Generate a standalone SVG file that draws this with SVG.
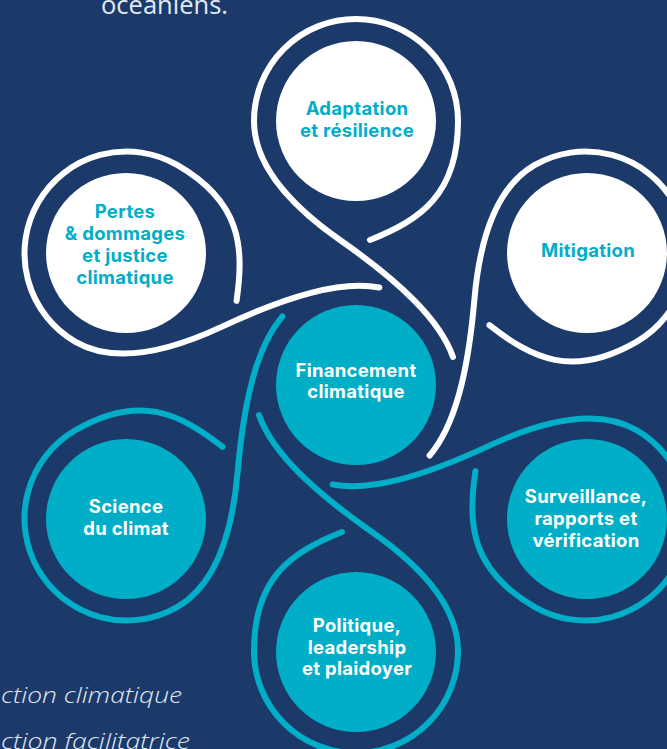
<svg xmlns="http://www.w3.org/2000/svg" xmlns:xlink="http://www.w3.org/1999/xlink" width="667" height="749" viewBox="0 0 667 749">
<defs>
<style>
.bg{fill:#1b3a6a}
.loop{fill:none;stroke-width:6;stroke-linecap:round;stroke-linejoin:round}
.w{stroke:#ffffff}
.c{stroke:#00aec8}
.nw{fill:#ffffff}
.nc{fill:#00aec8}
.lbl{font-family:Inter,"Noto Sans",sans-serif;font-weight:700;font-size:18.5px;letter-spacing:0.3px;text-anchor:middle}
.tc{fill:#00aec8}
.tw{fill:#ffffff}
.body{font-family:"Open Sans","Noto Sans",sans-serif;fill:#e4eaf2}
</style>
<path id="loopP" d="M 370 240 C 420 220, 458 195, 458 121 A 102 102 0 1 0 254 121 C 254 165, 290 205, 340 240 C 400 282, 440 320, 453 357"/>
</defs>
<rect class="bg" x="0" y="0" width="667" height="749"/>
<text class="body" x="101" y="14" font-size="25" font-weight="400" textLength="127" lengthAdjust="spacingAndGlyphs">océaniens.</text>
<text class="body" x="1" y="703" font-size="22" font-weight="300" font-style="italic" textLength="181" lengthAdjust="spacingAndGlyphs">ction climatique</text>
<text class="body" x="1" y="749" font-size="22" font-weight="300" font-style="italic" textLength="189" lengthAdjust="spacingAndGlyphs">ction facilitatrice</text>
<g id="connectors">
<use xlink:href="#loopP" href="#loopP" class="loop w"/>
<use xlink:href="#loopP" href="#loopP" class="loop w" transform="rotate(60 356 386)"/>
<use xlink:href="#loopP" href="#loopP" class="loop c" transform="rotate(120 356 386)"/>
<use xlink:href="#loopP" href="#loopP" class="loop c" transform="rotate(180 356 386)"/>
<use xlink:href="#loopP" href="#loopP" class="loop c" transform="rotate(240 356 386)"/>
<use xlink:href="#loopP" href="#loopP" class="loop w" transform="rotate(300 356 386)"/>
</g>
<g id="node-adaptation">
<circle class="nw" cx="356" cy="121" r="80"/>
<text class="lbl tc" x="357" y="115">Adaptation</text>
<text class="lbl tc" x="357" y="137">et résilience</text>
</g>
<g id="node-pertes">
<circle class="nw" cx="126" cy="253" r="80"/>
<text class="lbl tc" x="125" y="218">Pertes</text>
<text class="lbl tc" x="125" y="240">&amp; dommages</text>
<text class="lbl tc" x="125" y="262">et justice</text>
<text class="lbl tc" x="125" y="284">climatique</text>
</g>
<g id="node-mitigation">
<circle class="nw" cx="587" cy="253" r="80"/>
<text class="lbl tc" x="588" y="257">Mitigation</text>
</g>
<g id="node-financement">
<circle class="nc" cx="356" cy="385" r="80"/>
<text class="lbl tw" x="356" y="377">Financement</text>
<text class="lbl tw" x="356" y="398">climatique</text>
</g>
<g id="node-science">
<circle class="nc" cx="126" cy="519" r="80"/>
<text class="lbl tw" x="126" y="513">Science</text>
<text class="lbl tw" x="126" y="535">du climat</text>
</g>
<g id="node-surveillance">
<circle class="nc" cx="587" cy="519" r="80"/>
<text class="lbl tw" x="586" y="503">Surveillance,</text>
<text class="lbl tw" x="586" y="525">rapports et</text>
<text class="lbl tw" x="586" y="547">vérification</text>
</g>
<g id="node-politique">
<circle class="nc" cx="356" cy="652" r="80"/>
<text class="lbl tw" x="357" y="632">Politique,</text>
<text class="lbl tw" x="357" y="654">leadership</text>
<text class="lbl tw" x="357" y="675">et plaidoyer</text>
</g>
</svg>
